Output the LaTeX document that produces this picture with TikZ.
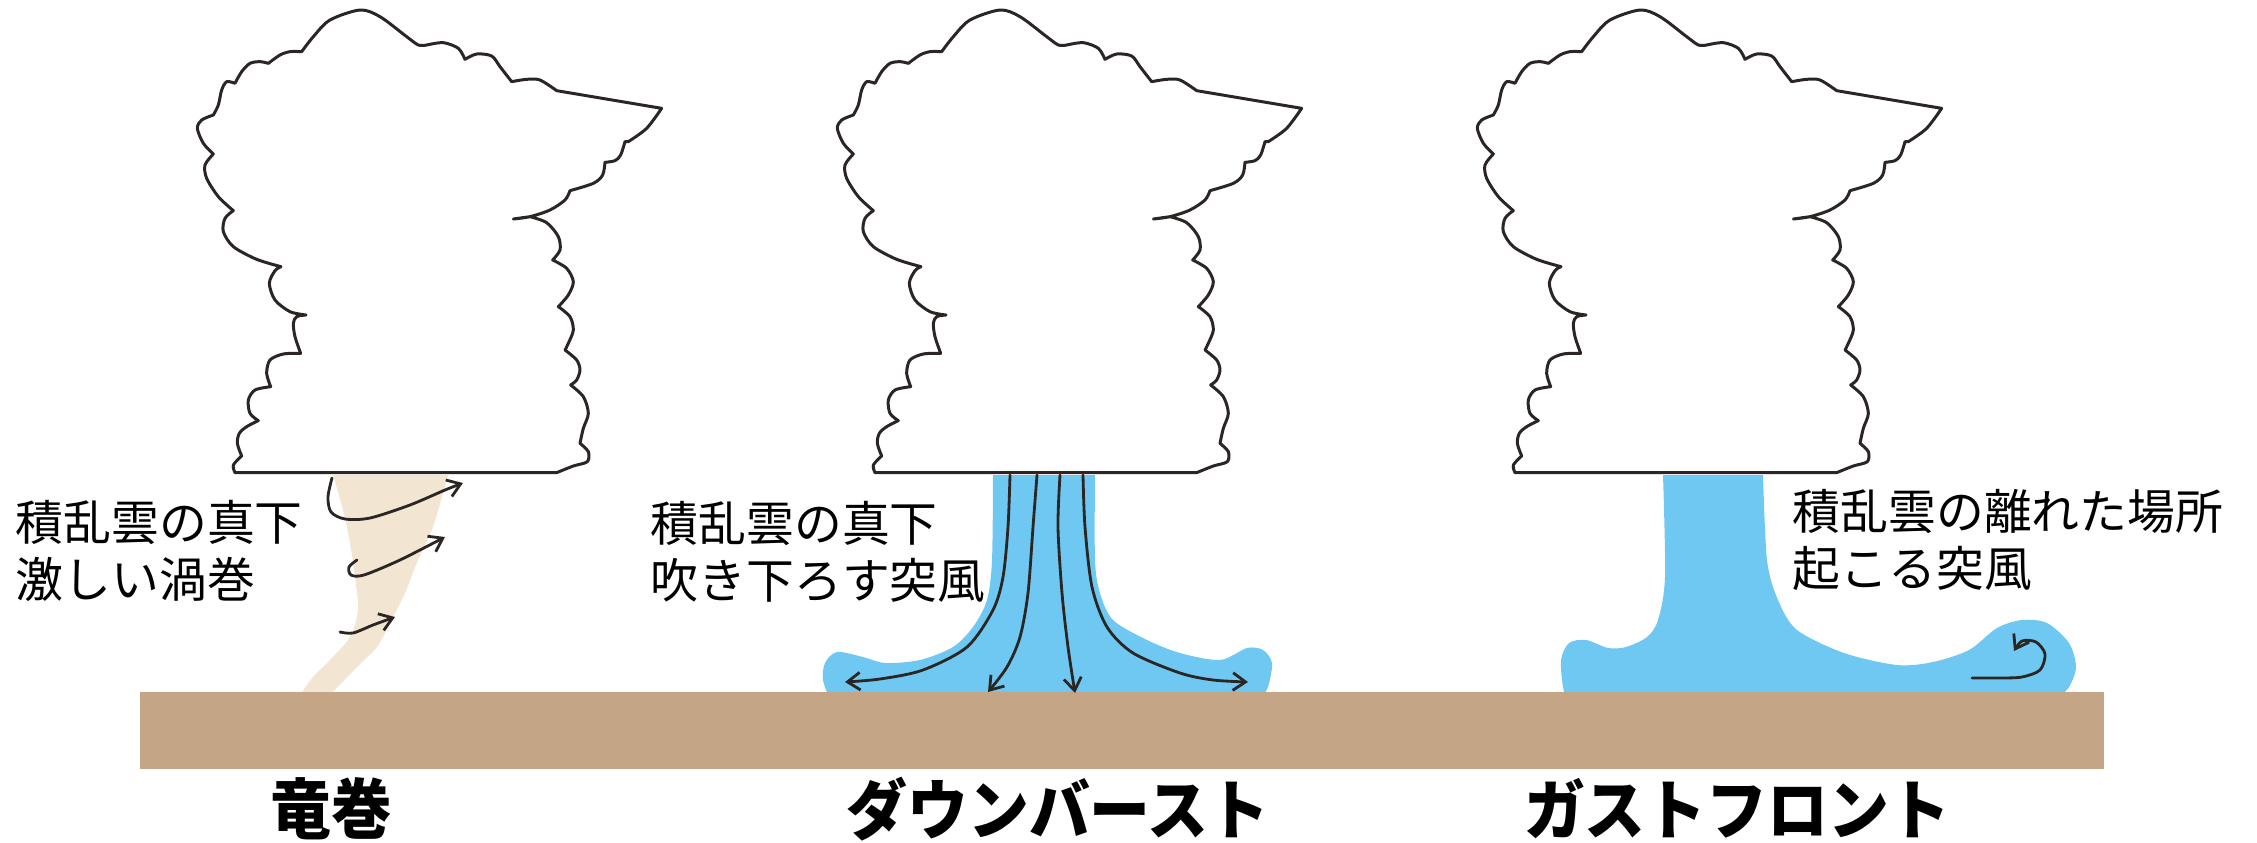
\documentclass[tikz,border=0pt]{standalone}
\usepackage{fontspec}
\newfontfamily\jp{Noto Sans CJK JP}
\newfontfamily\jptitle{Noto Sans CJK JP}[FakeStretch=0.93]
\usetikzlibrary{arrows.meta}
\definecolor{groundtan}{HTML}{C4A585}
\definecolor{windblue}{HTML}{6FC8F1}
\definecolor{funnel}{HTML}{F2E5D1}
\definecolor{ink}{HTML}{2B2624}

\tikzset{
  cloudline/.style={draw=ink, line width=0.85pt, fill=white, line join=round},
  flow/.style={draw=ink, line width=0.8pt, line cap=round,
    -{Straight Barb[length=3.6pt,width=5pt]}},
  note/.style={font=\jp\fontsize{13.6pt}{16.4pt}\selectfont, align=left,
    anchor=west, inner sep=0pt},
  title/.style={font=\jptitle\bfseries\fontsize{18.6pt}{20pt}\selectfont, inner sep=0pt},
  thundercloud/.pic={
    \begin{scope}[scale=1/3]
    \path[cloudline] (165,1418)
      -- plot[smooth] coordinates {(165,1418) (160,1395) (185,1368)}
      -- plot[smooth] coordinates {(185,1368) (172,1330) (178,1300) (200,1280) (235,1262)}
      -- plot[smooth] coordinates {(235,1262) (210,1240) (205,1200) (225,1170) (272,1160)}
      -- plot[smooth] coordinates {(272,1160) (260,1120) (270,1080) (310,1062) (362,1060)}
      -- plot[smooth] coordinates {(362,1060) (345,1010) (340,970) (350,950) (378,945)}
      -- plot[smooth] coordinates {(378,945) (330,935) (285,900) (268,850) (285,812) (303,800)}
      -- plot[smooth] coordinates {(303,800) (230,778) (160,740) (130,695) (135,655) (160,632)}
      -- plot[smooth] coordinates {(160,632) (115,590) (80,535) (75,495) (100,462)}
      -- plot[smooth] coordinates {(100,462) (70,430) (52,385) (65,360) (100,345)}
      -- plot[smooth] coordinates {(100,345) (115,315) (125,270) (140,245) (165,250)}
      -- plot[smooth] coordinates {(165,250) (185,215) (210,190) (240,185) (265,190)}
      -- plot[smooth] coordinates {(265,190) (300,165) (330,155) (365,155)}
      -- plot[smooth] coordinates {(365,155) (400,110) (450,60) (540,30) (600,50) (680,110) (715,135) (740,135)}
      -- plot[smooth] coordinates {(740,135) (790,128) (835,145) (855,178)}
      -- plot[smooth] coordinates {(855,178) (890,162) (935,168) (960,200) (995,245)}
      -- plot[smooth] coordinates {(995,245) (1040,238) (1080,240) (1130,272)}
      -- (1445,325)
      -- plot[smooth] coordinates {(1445,325) (1400,385) (1345,425)}
      -- plot[smooth] coordinates {(1335,425) (1322,465) (1305,482) (1275,487)}
      -- plot[smooth] coordinates {(1275,487) (1268,525) (1240,550) (1170,572)}
      -- plot[smooth] coordinates {(1170,572) (1155,600) (1110,630) (1050,650) (1000,657)}
      -- (1050,650)
      -- plot[smooth] coordinates {(1050,650) (1100,668) (1135,710) (1140,750) (1118,780)}
      -- plot[smooth] coordinates {(1118,780) (1160,805) (1180,845) (1165,885) (1135,920)}
      -- plot[smooth] coordinates {(1135,920) (1170,950) (1180,990) (1165,1030) (1155,1050)}
      -- plot[smooth] coordinates {(1155,1050) (1190,1080) (1200,1110) (1190,1140) (1172,1155)}
      -- plot[smooth] coordinates {(1172,1155) (1210,1190) (1225,1240) (1210,1285) (1200,1330)}
      -- plot[smooth] coordinates {(1200,1330) (1225,1355) (1222,1385) (1180,1398) (1130,1418)}
      -- cycle;
    \end{scope}
  }
}

\begin{document}
\begin{tikzpicture}[x=0.01cm, y=-0.01cm]
\useasboundingbox (0,0) rectangle (2257,842);

% downburst outflow
\fill[windblue] plot[smooth] coordinates {(830,700) (823,680) (825,663) (837,652) (863,657) (885,663) (920,660) (953,647) (973,627) (987,600) (992,560) (993,475)}
  -- plot[smooth] coordinates {(1095,475) (1095,560) (1100,593) (1113,620) (1147,640) (1180,653) (1220,660) (1247,648) (1263,650) (1272,663) (1268,687) (1260,700)}
  -- cycle;

% gust front outflow
\fill[windblue] plot[smooth] coordinates {(1567,700) (1563,687) (1561,660) (1569,643) (1586,640) (1608,648) (1626,647) (1647,637) (1658,620) (1665,577) (1663,475)}
  -- plot[smooth] coordinates {(1763,475) (1767,560) (1778,600) (1797,630) (1844,653) (1897,665) (1933,662) (1969,650) (1997,628) (2022,620) (2047,623) (2069,643) (2076,667) (2069,687) (2056,700)}
  -- cycle;

% tornado funnel
\fill[funnel] plot[smooth] coordinates {(333,475) (343,510) (350,543) (355,577) (358,610) (350,637) (330,660) (313,677) (300,695)}
  -- plot[smooth] coordinates {(330,695) (357,667) (377,647) (388,627) (405,593) (418,560) (433,527) (448,475)}
  -- cycle;

% ground
\fill[groundtan] (140,692) rectangle (2104,769);

% cumulonimbus clouds
\pic (cloudA) at (180,0) {thundercloud};
\pic (cloudB) at (820,0) {thundercloud};
\pic (cloudC) at (1460,0) {thundercloud};

% tornado swirl
\draw[flow] plot[smooth] coordinates {(332,478) (328,497) (331,512) (345,519) (370,518) (410,505) (445,490) (463,483)};
\draw[flow] plot[smooth] coordinates {(357,560) (349,567) (351,575) (364,575) (400,560) (445,537)};
\draw[flow] plot[smooth] coordinates {(340,632) (353,633) (373,625) (395,617)};

% downburst streamlines
\draw[flow] plot[smooth] coordinates {(1010,475) (1008,527) (1003,577) (993,610) (967,647) (923,670) (880,679) (845,682)};
\draw[flow] plot[smooth] coordinates {(1037,475) (1033,527) (1028,593) (1020,637) (1007,667) (988,692)};
\draw[flow] plot[smooth] coordinates {(1060,475) (1058,527) (1062,593) (1068,647) (1075,693)};
\draw[flow] plot[smooth] coordinates {(1083,475) (1085,527) (1092,587) (1107,627) (1133,653) (1180,673) (1213,680) (1248,682)};

% gust front roll
\draw[flow] plot[smooth] coordinates {(1972,678) (2000,678) (2022,677) (2040,670) (2045,654) (2036,642) (2022,641) (2014,651)};

% descriptions
\node[note] (tornadoNote) at (15,551) {積乱雲の真下\\激しい渦巻};
\node[note] (burstNote) at (650,552) {積乱雲の真下\\吹き下ろす突風};
\node[note] (gustNote) at (1792,540) {積乱雲の離れた場所\\起こる突風};

% titles
\node[title] (tornadoTitle) at (331,809) {竜巻};
\node[title] (burstTitle) at (1058,809) {ダウンバースト};
\node[title] (gustTitle) at (1737,809) {ガストフロント};
\end{tikzpicture}
\end{document}
